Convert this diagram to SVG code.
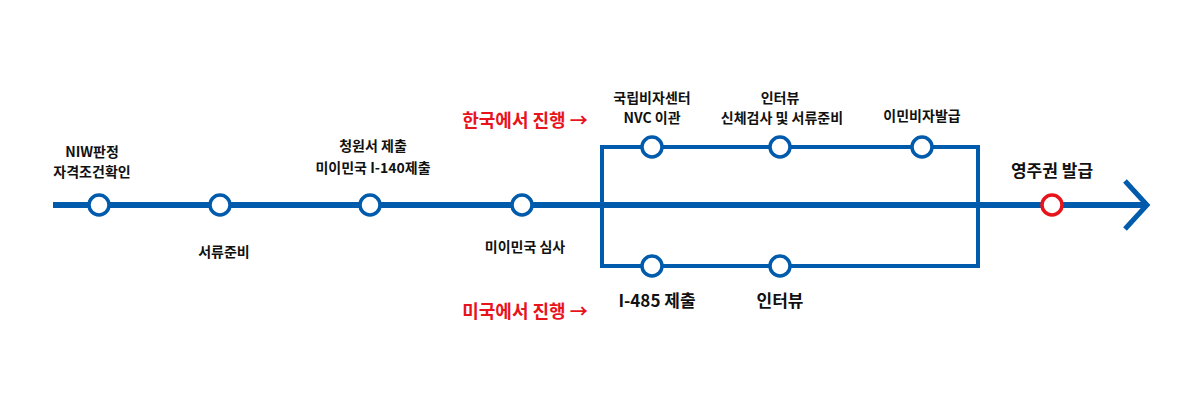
<svg xmlns="http://www.w3.org/2000/svg" width="1200" height="400" viewBox="0 0 1200 400">
<style>
.ln{stroke:#005bac;fill:none}
.n{fill:#fff;stroke:#005bac;stroke-width:3.5}
.t{font-family:"Noto Sans CJK KR","Noto Sans",sans-serif;font-weight:bold;font-size:14px;fill:#111;text-anchor:middle}
.b{font-size:17px}
.r{font-family:"Noto Sans CJK KR","Noto Sans",sans-serif;font-weight:bold;font-size:18px;fill:#e8141c;text-anchor:middle}
</style>
<rect width="1200" height="400" fill="#fff"/>
<g id="connectors">
<line class="ln" x1="53" y1="205" x2="1146" y2="205" stroke-width="6"/>
<polyline class="ln" points="1125,181 1147,205 1125,229" stroke-width="5"/>
<rect class="ln" x="602" y="147" width="376" height="119" stroke-width="4"/>
</g>
<g id="n1"><circle class="n" cx="99" cy="205" r="10"/><text class="t" x="92" y="157">NIW판정</text><text class="t" x="92" y="177">자격조건확인</text></g>
<g id="n2"><circle class="n" cx="220" cy="205" r="10"/><text class="t" x="224" y="257">서류준비</text></g>
<g id="n3"><circle class="n" cx="370" cy="205" r="10"/><text class="t" x="373" y="151">청원서 제출</text><text class="t" x="373" y="173">미이민국 I-140제출</text></g>
<g id="n4"><circle class="n" cx="522" cy="205" r="10"/><text class="t" x="525" y="252">미이민국 심사</text></g>
<g id="k1"><circle class="n" cx="652" cy="147" r="10"/><text class="t" x="652" y="103">국립비자센터</text><text class="t" x="652" y="123">NVC 이관</text></g>
<g id="k2"><circle class="n" cx="780" cy="147" r="10"/><text class="t" x="780" y="103">인터뷰</text><text class="t" x="782" y="123">신체검사 및 서류준비</text></g>
<g id="k3"><circle class="n" cx="922" cy="147" r="10"/><text class="t" x="922" y="121">이민비자발급</text></g>
<g id="u1"><circle class="n" cx="652" cy="266" r="10"/><text class="t b" x="657" y="307">I-485 제출</text></g>
<g id="u2"><circle class="n" cx="780" cy="266" r="10"/><text class="t b" x="780" y="307">인터뷰</text></g>
<g id="gc"><circle cx="1052" cy="205" r="10" fill="#fff" stroke="#e8141c" stroke-width="3.5"/><text class="t b" x="1052" y="177">영주권 발급</text></g>
<g id="labels"><text class="r" x="525" y="127">한국에서 진행 →</text><text class="r" x="525" y="318">미국에서 진행 →</text></g>
</svg>
